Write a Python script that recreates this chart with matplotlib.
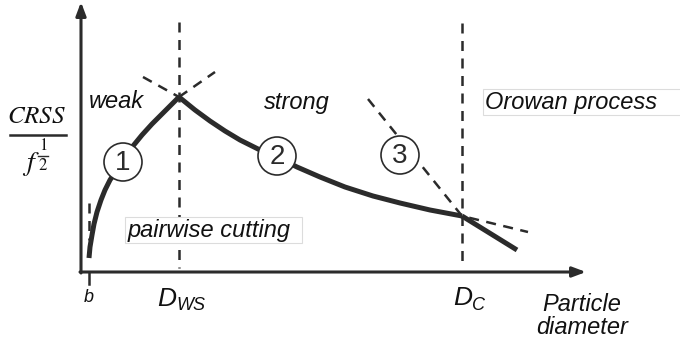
import matplotlib.pyplot as plt
from matplotlib.patches import Circle, Rectangle

plt.rcParams['font.family'] = ['Liberation Sans', 'DejaVu Sans']
plt.rcParams['mathtext.fontset'] = 'stix'

INK = '#2b2b2b'
TXT = '#111111'

# --- schematic curves (canvas units, y grows downward) ---
weak_x = [89, 90, 92, 94, 97, 101, 105, 110, 116, 123, 133, 142, 152, 162, 171, 179]
weak_y = [258, 247, 235, 224, 212, 200, 190, 180, 171, 162, 146, 135, 124, 114, 105, 97]

strong_x = [179, 195, 210, 225, 240, 258, 277, 297, 320, 345, 373, 400, 430, 462]
strong_y = [97, 110, 121, 131, 140, 149, 157, 167, 177, 187, 196, 203, 210, 216]

orowan_x = [462, 517]
orowan_y = [216, 250]

# dashed extensions crossing at the transitions
ext_weak_x, ext_weak_y = [179, 215], [97, 72]
ext_strong_x, ext_strong_y = [143, 179], [77, 97]
ext_3_x, ext_3_y = [368, 462, 528], [99, 216, 232]

# transition diameters
d_ws, d_c, b_pos = 179, 462, 89

# numbered markers on the curves
markers = [(123, 162, '1'), (277, 156, '2'), (400, 155, '3')]

fig = plt.figure(figsize=(6.8, 3.42), dpi=100)
ax = fig.add_axes([0, 0, 1, 1])
ax.set_xlim(0, 680)
ax.set_ylim(342, 0)
ax.axis('off')

# axes with arrows
arrow = dict(arrowstyle='-|>,head_length=0.8,head_width=0.3',
             color=INK, lw=2.2, shrinkA=0, shrinkB=0)
ax.annotate('', xy=(81, 2), xytext=(81, 273), arrowprops=arrow)
ax.annotate('', xy=(586, 272), xytext=(80, 272), arrowprops=arrow)

# vertical transition lines
dash = (0, (4, 3))
ax.plot([d_ws, d_ws], [22, 268], color=INK, lw=1.8, linestyle=dash)
ax.plot([d_c, d_c], [23, 268], color=INK, lw=1.8, linestyle=dash)
ax.plot([b_pos, b_pos], [203, 240], color=INK, lw=1.8, linestyle=dash)
ax.plot([b_pos, b_pos], [273, 284], color=INK, lw=1.8)

# dashed extensions
ax.plot(ext_weak_x, ext_weak_y, color=INK, lw=1.8, linestyle=dash)
ax.plot(ext_strong_x, ext_strong_y, color=INK, lw=1.8, linestyle=dash)
ax.plot(ext_3_x, ext_3_y, color=INK, lw=1.8, linestyle=dash)

# solid CRSS curve
for xs, ys in [(weak_x, weak_y), (strong_x, strong_y), (orowan_x, orowan_y)]:
    ax.plot(xs, ys, color=INK, lw=3.6, solid_capstyle='butt',
            solid_joinstyle='round')

for cx, cy, label in markers:
    ax.add_patch(Circle((cx, cy), 19, facecolor='white', edgecolor=INK,
                        lw=1.2, zorder=5))
    ax.text(cx, cy + 1, label, ha='center', va='center', fontsize=20,
            color=INK, zorder=6)

# region labels
ax.text(89, 102, 'weak', style='italic', fontsize=17, color=TXT,
        va='center', ha='left')
ax.text(264, 102, 'strong', style='italic', fontsize=17, color=TXT,
        va='center', ha='left')

ax.add_patch(Rectangle((125, 217), 177, 26, facecolor='white',
                       edgecolor='#dcdcdc', lw=0.8, zorder=4))
ax.text(128, 230, 'pairwise cutting', style='italic', fontsize=17,
        color=TXT, va='center', ha='left', zorder=6)
ax.add_patch(Rectangle((483, 89), 210, 26, facecolor='white',
                       edgecolor='#dcdcdc', lw=0.8, zorder=4))
ax.text(485, 102, 'Orowan process', style='italic', fontsize=17,
        color=TXT, va='center', ha='left', zorder=6)

# axis annotations
ax.text(89, 298, 'b', style='italic', fontsize=13, color=TXT,
        ha='center', va='center')
ax.text(157, 299, 'D', style='italic', fontsize=19, color=TXT,
        ha='left', va='center')
ax.text(176, 306, 'WS', style='italic', fontsize=13, color=TXT,
        ha='left', va='center')
ax.text(453, 298, 'D', style='italic', fontsize=19, color=TXT,
        ha='left', va='center')
ax.text(472, 305, 'C', style='italic', fontsize=13, color=TXT,
        ha='left', va='center')
ax.text(582, 316, 'Particle\ndiameter', style='italic', fontsize=17,
        color=TXT, ha='center', va='center', linespacing=1.05)

# y-axis quantity
ax.text(37, 116, r'$CRSS$', fontsize=18, color=TXT, ha='center',
        va='center')
ax.plot([10, 66], [135, 135], color=INK, lw=1.8)
ax.text(31, 164, r'$f$', fontsize=20, color=TXT, ha='center', va='center')
ax.text(43, 146, '1', fontsize=12, color=TXT, ha='center', va='center',
        family='STIXGeneral')
ax.plot([38, 48], [156, 156], color=INK, lw=1.0)
ax.text(43, 166, '2', fontsize=12, color=TXT, ha='center', va='center',
        family='STIXGeneral')

fig.savefig('out.png', dpi=100)
